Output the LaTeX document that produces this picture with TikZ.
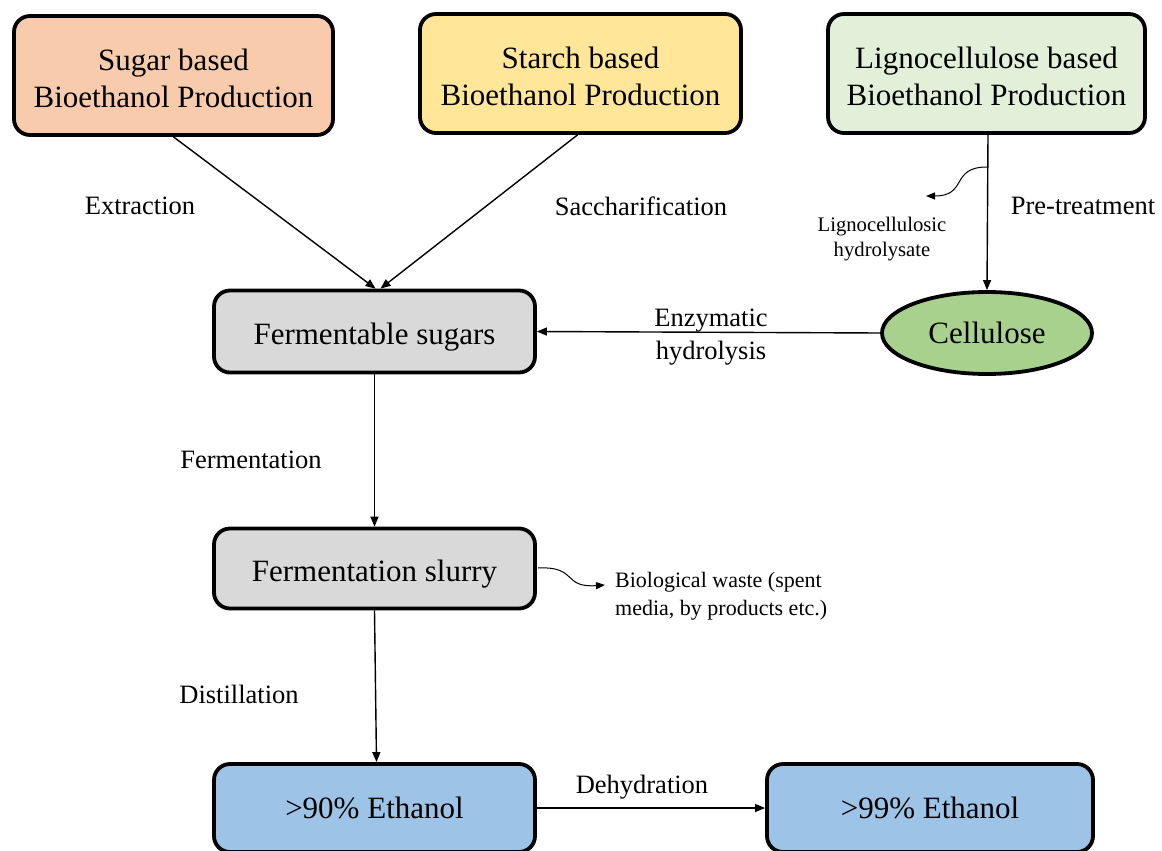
\documentclass[tikz,border=0pt]{standalone}
\usepackage{fontspec}
\setmainfont{Liberation Serif}
\usetikzlibrary{shapes.geometric,arrows.meta}
\definecolor{csugar}{HTML}{F8CBAD}
\definecolor{cstarch}{HTML}{FFE699}
\definecolor{cligno}{HTML}{E2F0D9}
\definecolor{cgrey}{HTML}{D9D9D9}
\definecolor{ccell}{HTML}{A9D18E}
\definecolor{cblue}{HTML}{9DC3E6}
\tikzset{
  box/.style={draw=black, line width=3.8pt, rounded corners=16pt, align=center, inner sep=0pt,
    font=\fontsize{31}{37}\selectfont},
  arr/.style={line width=1.4pt, -{Triangle[length=10pt,width=8pt]}},
  thinarr/.style={line width=1pt, -{Triangle[length=9pt,width=7pt]}},
  lab/.style={font=\fontsize{26.5}{33}\selectfont, align=center, inner sep=0pt},
  smalllab/.style={font=\fontsize{20.7}{25}\selectfont, align=center, inner sep=0pt},
  wastelab/.style={font=\fontsize{22}{28}\selectfont, align=left, inner sep=0pt},
}
\begin{document}
\begin{tikzpicture}[x=1pt,y=-1pt]
\useasboundingbox (0,0) rectangle (1162,851);
\node[box, fill=csugar, minimum width=319pt, minimum height=119pt, text height=64pt, text depth=0pt] (sugar) at (173.5,75.5) {Sugar based\\Bioethanol Production};
\node[box, fill=cstarch, minimum width=321pt, minimum height=119pt, text height=64pt, text depth=0pt] (starch) at (580.5,73.5) {Starch based\\Bioethanol Production};
\node[box, fill=cligno, minimum width=317pt, minimum height=119pt, text height=64pt, text depth=0pt] (ligno) at (986.5,73.5) {Lignocellulose based\\Bioethanol Production};
\node[box, fill=cgrey, minimum width=321pt, minimum height=82pt, text height=25pt, text depth=0pt] (ferm) at (374.5,331.5) {Fermentable sugars};
\node[draw=black, line width=3.8pt, ellipse, fill=ccell, minimum width=210pt, minimum height=82pt, inner sep=0pt,
  font=\fontsize{31}{37}\selectfont] (cell) at (987,333) {Cellulose};
\node[box, fill=cgrey, minimum width=321pt, minimum height=80pt, text height=25pt, text depth=0pt] (slurry) at (374.5,568.5) {Fermentation slurry};
\node[box, fill=cblue, minimum width=321pt, minimum height=88pt] (e90) at (374.5,808) {>90\% Ethanol};
\node[box, fill=cblue, minimum width=326pt, minimum height=88pt] (e99) at (930,808) {>99\% Ethanol};

\draw[arr] (sugar.south) -- ([xshift=1pt]ferm.north);
\draw[arr] ([xshift=-3pt]starch.south) -- ([xshift=6pt]ferm.north);
\draw[arr] ([xshift=1.5pt]ligno.south) -- (cell.north);
\draw[arr] (cell.west) -- (ferm.east);
\draw[arr] (ferm.south) -- (slurry.north);
\draw[arr] (slurry.south) -- ([xshift=2pt]e90.north);
\draw[arr] (e90.east) -- (e99.west);

\coordinate (hstart) at (987,167);
\coordinate (hend) at (926,196);
\draw[thinarr] (hstart) .. controls (950,167) and (968,196) .. (hend);
\coordinate (wstart) at (538,568);
\coordinate (wend) at (605,585);
\draw[thinarr] (wstart) .. controls (578,566) and (562,588) .. (wend);

\node[lab] (lextr) at (140,206) {Extraction};
\node[lab] (lsacc) at (641,206) {Saccharification};
\node[lab] (lpre) at (1083,206) {Pre-treatment};
\node[smalllab] (lhyd) at (882,239) {Lignocellulosic\\hydrolysate};
\node[lab] (lenz) at (711,337) {Enzymatic\\hydrolysis};
\node[lab] (lferm) at (251,460) {Fermentation};
\node[lab] (ldist) at (239,694) {Distillation};
\node[wastelab, anchor=west] (lwaste) at (615,596) {Biological waste (spent\\media, by products etc.)};
\node[lab] (ldehy) at (642,787) {Dehydration};
\end{tikzpicture}
\end{document}
